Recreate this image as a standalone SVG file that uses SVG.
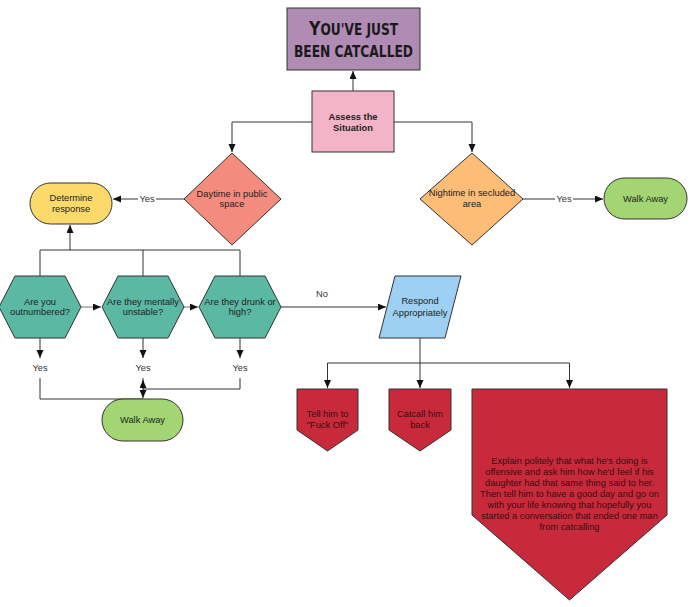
<svg xmlns="http://www.w3.org/2000/svg" width="697" height="607" viewBox="0 0 697 607">
<defs>
<marker id="arr" markerUnits="userSpaceOnUse" markerWidth="9" markerHeight="8" refX="8" refY="3.5" orient="auto">
<path d="M0,0 L8,3.5 L0,7 z" fill="#111"/>
</marker>
<style>
.shape{stroke:#333;stroke-width:1}
.t{font-family:"Liberation Sans",Arial,sans-serif;font-size:9.3px;fill:#222;text-anchor:middle}
.b{font-weight:bold}
.lbl{font-family:"Liberation Sans",Arial,sans-serif;font-size:9.3px;fill:#333;text-anchor:middle}
.c{fill:none;stroke:#333;stroke-width:1}
.g{fill:none;stroke:#777;stroke-width:1}
.red{fill:#c82a3b}
.rt{fill:#3a0a10}
.hex{fill:#5bb8a3}
.title{font-family:"DejaVu Sans Condensed","DejaVu Sans",sans-serif;font-weight:bold;font-stretch:condensed;font-size:15px;fill:#1a1a1a;text-anchor:middle}
.big{font-size:19.5px}
</style>
</defs>
<rect width="697" height="607" fill="#fff"/>

<g id="connectors">
<path class="c" d="M353,91 V71" marker-end="url(#arr)"/>
<path class="c" d="M312,122 H232 V152" marker-end="url(#arr)"/>
<path class="c" d="M394,122 H472 V152" marker-end="url(#arr)"/>
<path class="c" d="M184,199 H113" marker-end="url(#arr)"/>
<rect x="138" y="192" width="18" height="12" fill="#fff"/>
<text class="lbl" x="147" y="201.5">Yes</text>
<path class="c" d="M523,199 H603" marker-end="url(#arr)"/>
<rect x="555" y="192" width="18" height="12" fill="#fff"/>
<text class="lbl" x="564" y="201.5">Yes</text>
<path class="c" d="M40,276 V250 H240 V276 M143,250 V276"/>
<path class="c" d="M70,250 V225" marker-end="url(#arr)"/>
<path class="g" d="M81,307 H101" marker-end="url(#arr)"/>
<path class="g" d="M184,307 H198" marker-end="url(#arr)"/>
<path class="c" d="M281,307 H386" marker-end="url(#arr)"/>
<text class="lbl" x="322" y="296.5">No</text>
<path class="c" d="M40,338 V358" marker-end="url(#arr)"/>
<path class="c" d="M143,338 V358" marker-end="url(#arr)"/>
<path class="c" d="M240,338 V358" marker-end="url(#arr)"/>
<text class="lbl" x="40" y="370.5">Yes</text>
<text class="lbl" x="143" y="370.5">Yes</text>
<text class="lbl" x="240" y="370.5">Yes</text>
<path class="c" d="M40,378 V399 H143"/>
<path class="c" d="M143,378 V398" marker-end="url(#arr)"/>
<path class="c" d="M240,378 V389 H143 V380" marker-end="url(#arr)"/>
<path class="c" d="M420,338 V388" marker-end="url(#arr)"/>
<path class="c" d="M420,363 H327.5 V388" marker-end="url(#arr)"/>
<path class="c" d="M420,363 H569.5 V388" marker-end="url(#arr)"/>
</g>

<g id="title">
<rect class="shape" x="287" y="8" width="133" height="62" fill="#b08cb4"/>
<text class="title" x="353.5" y="35" textLength="89" lengthAdjust="spacingAndGlyphs"><tspan class="big">Y</tspan>OU'VE JUST</text>
<text class="title" x="353.5" y="57" textLength="119" lengthAdjust="spacingAndGlyphs">BEEN CATCALLED</text>
</g>

<g id="assess">
<rect class="shape" x="312" y="91" width="82" height="61" fill="#f4b4c8"/>
<text class="t b" x="353" y="119.5">Assess the</text>
<text class="t b" x="353" y="130.5">Situation</text>
</g>

<g id="daytime">
<polygon class="shape" points="232,153 281,199 232,245 184,199" fill="#f38b7e"/>
<text class="t" x="232" y="196.5">Daytime in public</text>
<text class="t" x="232" y="207">space</text>
</g>

<g id="nightime">
<polygon class="shape" points="472,153 523,199 472,245 420,199" fill="#fdbd76"/>
<text class="t" x="472" y="196">Nightime in secluded</text>
<text class="t" x="472" y="207">area</text>
</g>

<g id="determine">
<rect class="shape" x="30" y="183" width="82" height="41" rx="20.5" fill="#fcd96b"/>
<text class="t" x="71" y="200.5">Determine</text>
<text class="t" x="71" y="212">response</text>
</g>

<g id="walkaway1">
<rect class="shape" x="604" y="178" width="83" height="41" rx="20.5" fill="#a3d672"/>
<text class="t" x="645.5" y="201.5">Walk Away</text>
</g>

<g id="outnumbered">
<polygon class="shape hex" points="-1,307 15,276 65,276 81,307 65,338 15,338"/>
<text class="t" x="40" y="304.5">Are you</text>
<text class="t" x="40" y="315">outnumbered?</text>
</g>

<g id="unstable">
<polygon class="shape hex" points="102,307 118,276 168,276 184,307 168,338 118,338"/>
<text class="t" x="143" y="304.5">Are they mentally</text>
<text class="t" x="143" y="315">unstable?</text>
</g>

<g id="drunk">
<polygon class="shape hex" points="199,307 215,276 265,276 281,307 265,338 215,338"/>
<text class="t" x="240" y="304.5">Are they drunk or</text>
<text class="t" x="240" y="315">high?</text>
</g>

<g id="walkaway2">
<rect class="shape" x="102" y="399" width="81" height="42" rx="21" fill="#a3d672"/>
<text class="t" x="142.5" y="422.5">Walk Away</text>
</g>

<g id="respond">
<polygon class="shape" points="395,276 461,276 445,338 379,338" fill="#9dd0f2"/>
<text class="t" x="420" y="303.5">Respond</text>
<text class="t" x="420" y="315.5">Appropriately</text>
</g>

<g id="tellhim">
<polygon class="shape red" points="297,389 358,389 358,430 327.5,451 297,430"/>
<text class="t rt" x="327.5" y="416.5">Tell him to</text>
<text class="t rt" x="327.5" y="427.5">"Fuck Off"</text>
</g>

<g id="catcall">
<polygon class="shape red" points="389,389 451,389 451,430 420,451 389,430"/>
<text class="t rt" x="420" y="416.5">Catcall him</text>
<text class="t rt" x="420" y="427.5">back</text>
</g>

<g id="explain">
<polygon class="shape red" points="472,389 667,389 667,515 569.5,600 472,515"/>
<text class="t rt" x="569.5" y="463.5">Explain politely that what he's doing is</text>
<text class="t rt" x="569.5" y="474.6">offensive and ask him how he'd feel if his</text>
<text class="t rt" x="569.5" y="485.7">daughter had that same thing said to her.</text>
<text class="t rt" x="569.5" y="496.8">Then tell him to have a good day and go on</text>
<text class="t rt" x="569.5" y="507.9">with your life knowing that hopefully you</text>
<text class="t rt" x="569.5" y="519">started a conversation that ended one man</text>
<text class="t rt" x="569.5" y="530.1">from catcalling</text>
</g>
</svg>
